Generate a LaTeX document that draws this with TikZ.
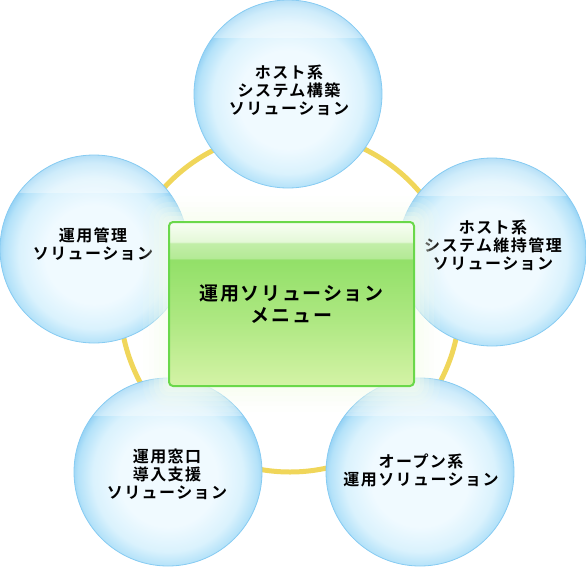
\documentclass[tikz,border=0pt]{standalone}
\usepackage{fontspec}
\newfontfamily\cjk{Noto Sans CJK JP}[BoldFont=* Bold]
\definecolor{bubA}{HTML}{F0FAFF}
\definecolor{bubB}{HTML}{DAF2FD}
\definecolor{bubC}{HTML}{B4E2F9}
\definecolor{bubD}{HTML}{8ECEF3}
\definecolor{bubEdge}{HTML}{86CBF2}
\definecolor{ringY}{HTML}{F0D65A}
\definecolor{gB}{HTML}{D4F3A6}
\definecolor{gM}{HTML}{AEE882}
\definecolor{gG}{HTML}{92E068}
\definecolor{gL}{HTML}{B4EA96}
\definecolor{gLb}{HTML}{C2EEA8}
\definecolor{gWb}{HTML}{E4F8D8}
\definecolor{gW}{HTML}{F8FEF4}
\definecolor{gEdge}{HTML}{6AD84A}
\definecolor{glowC}{HTML}{F6FDEE}
\pgfdeclareradialshading{bubble}{\pgfpoint{0bp}{-2bp}}{color(0bp)=(bubA); color(13bp)=(bubA); color(20bp)=(bubB); color(24bp)=(bubC); color(26bp)=(bubD); color(50bp)=(bubD)}
\pgfdeclareverticalshading{greenbox}{100bp}{color(0bp)=(gB); color(25bp)=(gB); color(45bp)=(gM); color(63.5bp)=(gG); color(64bp)=(gL); color(68.5bp)=(gLb); color(69bp)=(gWb); color(75bp)=(gW); color(100bp)=(gW)}
\tikzset{
  bubblenode/.style={circle, minimum size=188pt, inner sep=0pt, shading=bubble,
    draw=bubEdge, line width=0.8pt,
    path picture={\fill[white, fill opacity=0.35] (path picture bounding box.north west) rectangle ([yshift=56pt]path picture bounding box.east);}},
  bubbletext/.style={align=center, inner sep=0pt,
    font=\cjk\bfseries\fontsize{16}{18}\selectfont\addfontfeature{LetterSpace=9}},
  mainbox/.style={rectangle, rounded corners=4pt, shading=greenbox, draw=gEdge, line width=2pt,
    minimum width=245pt, minimum height=164pt, align=center,
    font=\cjk\bfseries\fontsize{19}{22}\selectfont\addfontfeature{LetterSpace=9}},
  ringline/.style={draw=ringY, line width=5pt},
  glowfill/.style={fill=glowC}
}
\begin{document}
\begin{tikzpicture}[x=1pt,y=-1pt]
\useasboundingbox (0,0) rectangle (586,568);
\coordinate (ctr) at (290,302);
\draw[ringline] (ctr) circle[radius=170pt];
\node[bubblenode] (top) at (288,94) {};
\node[bubblenode] (left) at (94,249) {};
\node[bubblenode] (right) at (492,252) {};
\node[bubblenode] (bl) at (168,472) {};
\node[bubblenode] (br) at (420,472) {};
\node[bubbletext] (topt) at (289,90) {ホスト系\\システム構築\\ソリューション};
\node[bubbletext] (leftt) at (93,244) {運用管理\\ソリューション};
\node[bubbletext] (rightt) at (493,245) {ホスト系\\システム維持管理\\ソリューション};
\node[bubbletext] (blt) at (167,474) {運用窓口\\導入支援\\ソリューション};
\node[bubbletext] (brt) at (421,470) {オープン系\\運用ソリューション};
\foreach \e/\o in {26/0.12,20/0.16,15/0.2,10/0.25,6/0.3,2/0.35}{
  \fill[glowfill, fill opacity=\o, rounded corners=\e pt] (169-\e,222-\e) rectangle (414+\e,386+\e);
}
\node[mainbox] (main) at (291.5,304) {運用ソリューション\\メニュー};
\end{tikzpicture}
\end{document}
